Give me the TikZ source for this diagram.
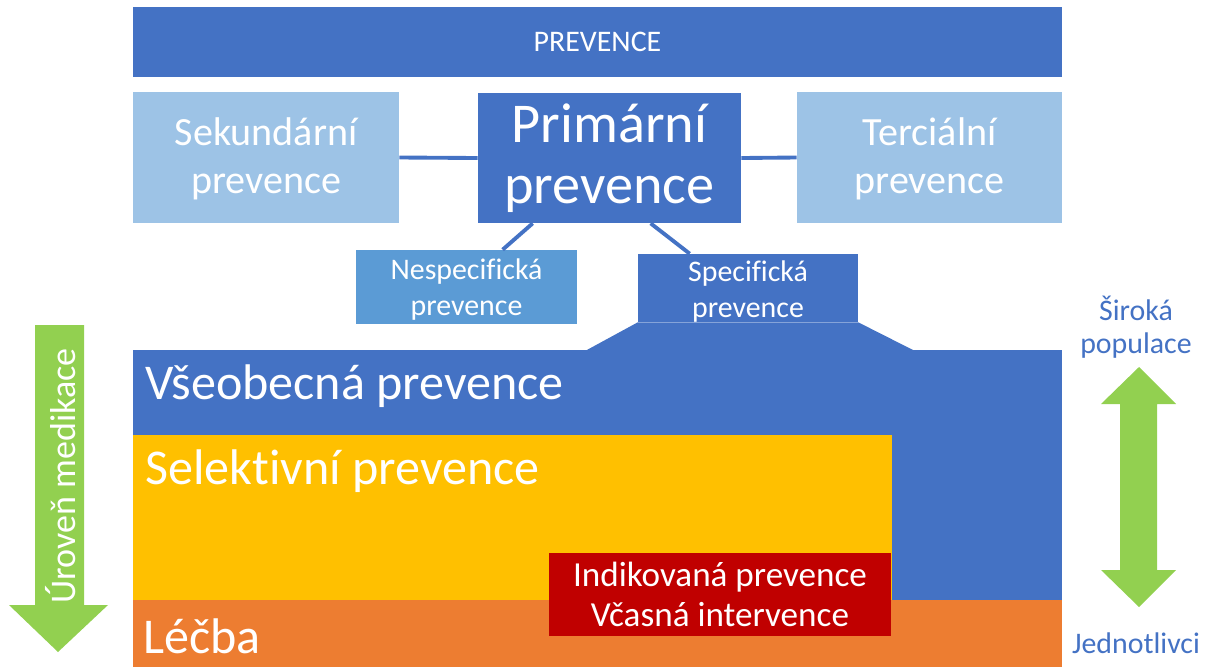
\documentclass[tikz,border=0pt]{standalone}
\usepackage{fontspec}
\setmainfont{Carlito}[Ligatures={NoCommon}]
\usepackage{tikz}
\usetikzlibrary{positioning}
\definecolor{prevblue}{HTML}{4472C4}
\definecolor{lightblue}{HTML}{9DC3E6}
\definecolor{midblue}{HTML}{5B9BD5}
\definecolor{selyellow}{HTML}{FFC000}
\definecolor{lecorange}{HTML}{ED7D31}
\definecolor{indred}{HTML}{C00000}
\definecolor{arrowgreen}{HTML}{92D050}
\tikzset{
	block/.style={fill=#1, inner sep=0pt, text=white, align=center},
	level/.style={anchor=west, inner sep=0pt, text=white, font=\fontsize{28.5}{31}\selectfont},
	link/.style={draw=prevblue, line width=2.2pt}
}

\begin{document}
\begin{tikzpicture}[x=0.02cm, y=-0.02cm]
		\useasboundingbox (0,0) rectangle (1220,667);

		% Prevence header
		\node[block=prevblue, minimum width=18.58cm, minimum height=1.4cm, font=\fontsize{17}{20}\selectfont] (prevence) at (597.5,42) {PREVENCE};

		% Three kinds of prevention
		\node[block=lightblue, minimum width=5.32cm, minimum height=2.62cm, font=\fontsize{22.8}{27}\selectfont] (sekundarni) at (266,157.5) {};
		\node[align=center, text=white, font=\fontsize{22.8}{27}\selectfont] at (266,159) {Sekundární\\prevence};
		\node[block=prevblue, minimum width=5.26cm, minimum height=2.6cm, font=\fontsize{32}{35}\selectfont] (primarni) at (609.5,158) {Primární\\prevence};
		\node[block=lightblue, minimum width=5.3cm, minimum height=2.62cm] (terciarni) at (929.5,157.5) {};
		\node[align=center, text=white, font=\fontsize{22.8}{27}\selectfont] at (929.5,159) {Terciální\\prevence};

		% Nonspecific and specific
		\node[block=midblue, minimum width=4.42cm, minimum height=1.48cm] (nespecificka) at (466.5,287) {};
		\node[align=center, text=white, font=\fontsize{17}{20.5}\selectfont] at (466.5,290) {Nespecifická\\prevence};
		\node[block=prevblue, minimum width=4.4cm, minimum height=1.36cm] (specificka) at (748,288) {};
		\fill[prevblue] (specificka.south west) -- (585,351) -- (915,351) -- (specificka.south east) -- cycle;
		\node[align=center, text=white, font=\fontsize{17}{20.5}\selectfont] at (748,292) {Specifická\\prevence};

		% Levels
		\node[block=prevblue, minimum width=18.58cm, minimum height=5cm] (vseobecna) at (597.5,475) {};
		\node[level] at (145,386) {Všeobecná prevence};
		\node[block=selyellow, minimum width=15.18cm, minimum height=3.3cm] (selektivni) at (512.5,517.5) {};
		\node[level] at (145,471) {Selektivní prevence};
		\node[block=lecorange, minimum width=18.58cm, minimum height=1.34cm] (lecba) at (597.5,633.5) {};
		\node[level] at (143,636) {Léčba};
		\node[block=indred, minimum width=6.84cm, minimum height=1.66cm, font=\fontsize{20}{23}\selectfont] (indikovana) at (720,594.5) {Indikovaná prevence\\Včasná intervence};

		% Lines
		\draw[link] (sekundarni.east) -- (primarni.west);
		\draw[link] (primarni.east) -- (terciarni.west);
		\draw[link] ([xshift=1.1cm]primarni.south west) -- ([xshift=2.94cm]nespecificka.north west);
		\draw[link] ([xshift=3.46cm]primarni.south west) -- ([xshift=1.04cm]specificka.north west);

		% Medication arrow
		\fill[arrowgreen] (35,325) -- (84,325) -- (84,605) -- (108,605) -- (58,652) -- (9,605) -- (35,605) -- cycle;
		\node[rotate=90, text=white, font=\fontsize{20.5}{23}\selectfont] (medikace) at (61,476) {Úroveň medikace};

		% Population arrow
		\fill[arrowgreen] (1120,404) -- (1101,404) -- (1139,367) -- (1176,404) -- (1157,404) -- (1157,570) -- (1176,570) -- (1139,607) -- (1101,570) -- (1120,570) -- cycle;
		\node[align=center, text=prevblue, font=\fontsize{17}{18.5}\selectfont] (siroka) at (1136,327) {Široká\\populace};
		\node[text=prevblue, font=\fontsize{17}{20}\selectfont] (jednotlivci) at (1136,643) {Jednotlivci};
	\end{tikzpicture}
\end{document}
